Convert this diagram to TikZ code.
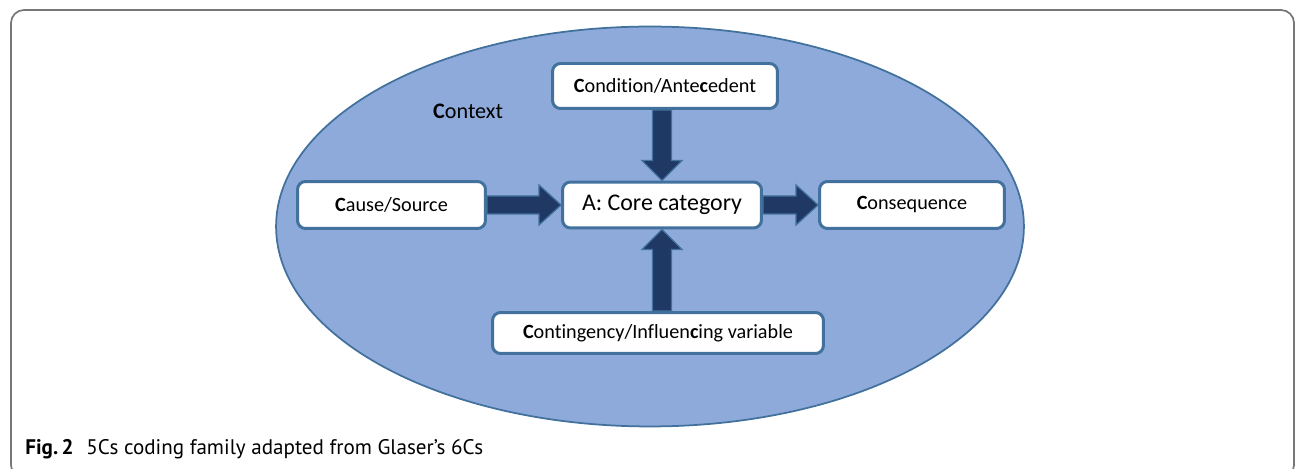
\documentclass[tikz,border=0pt]{standalone}
\usepackage{fontspec}
\setmainfont{Carlito}[Ligatures=NoCommon]
\newfontfamily\capfont{PT Sans}
\usetikzlibrary{calc}
\definecolor{ellfill}{HTML}{8EAADB}
\definecolor{ellline}{HTML}{41719C}
\definecolor{boxline}{HTML}{41719C}
\definecolor{arrfill}{HTML}{1F3864}
\definecolor{framecol}{HTML}{777777}
\newcommand{\harr}[2]{%
  \draw[barrow] ($(#1.east)+(0,-9)$) -- ($(#2.west)+(-22,-9)$) -- ($(#2.west)+(-22,-20)$)
    -- (#2.west) -- ($(#2.west)+(-22,20)$) -- ($(#2.west)+(-22,9)$) -- ($(#1.east)+(0,9)$) -- cycle;}
\newcommand{\varr}[3]{%
  \draw[barrow] ($(#1)+(-9.5,0)$) -- ($(#2)+(-9.5,{#3*(-20)})$) -- ($(#2)+(-20,{#3*(-20)})$)
    -- (#2) -- ($(#2)+(20,{#3*(-20)})$) -- ($(#2)+(9.5,{#3*(-20)})$) -- ($(#1)+(9.5,0)$) -- cycle;}
\begin{document}
\begin{tikzpicture}[x=0.02cm,y=-0.02cm,
  box/.style={draw=boxline, line width=0.06cm, fill=white, rounded corners=0.16cm,
    inner sep=0pt, font=\fontsize{11.5}{13}\selectfont},
  barrow/.style={fill=arrfill, draw=ellline, line width=0.025cm, line join=miter}]
\useasboundingbox (0,0) rectangle (1296,469);
\clip (0,0) rectangle (1296,469);
\draw[framecol, line width=0.035cm, rounded corners=0.26cm] (11,10) rectangle (1294,478);
\draw[ellline, fill=ellfill, line width=0.035cm] (650,226.5) ellipse [x radius=7.48cm, y radius=4.0cm];
\node[font=\fontsize{12.6}{14}\selectfont, anchor=base west] (ctx) at (427,119) {\textbf{C}ontext};
\node[box, minimum width=3.76cm, minimum height=0.94cm] (cause) at (391.5,205) {\textbf{C}ause/Source};
\node[box, minimum width=3.98cm, minimum height=0.92cm, font=\fontsize{13.6}{15}\selectfont] (core) at (662,205) {A: Core category};
\node[box, minimum width=3.70cm, minimum height=0.94cm] (cons) at (912,205) {\textbf{C}onsequence};
\node[box, minimum width=4.50cm, minimum height=0.90cm] (cond) at (665,86) {\textbf{C}ondition/Ante\textbf{c}edent};
\node[box, minimum width=6.62cm, minimum height=0.82cm] (cont) at (658,333) {\textbf{C}ontingency/Influen\textbf{c}ing variable};
\harr{cause}{core}
\harr{core}{cons}
\coordinate (topstart) at (core.north |- cond.south);
\coordinate (botstart) at (core.south |- cont.north);
\varr{topstart}{core.north}{1}
\varr{botstart}{core.south}{-1}
\node[font=\capfont\fontsize{12}{14}\selectfont, anchor=base west, inner sep=0pt] (cap) at (25,455)
  {\textbf{Fig.\,2}\hspace{0.6em}5Cs coding family adapted from Glaser’s 6Cs};
\end{tikzpicture}
\end{document}
